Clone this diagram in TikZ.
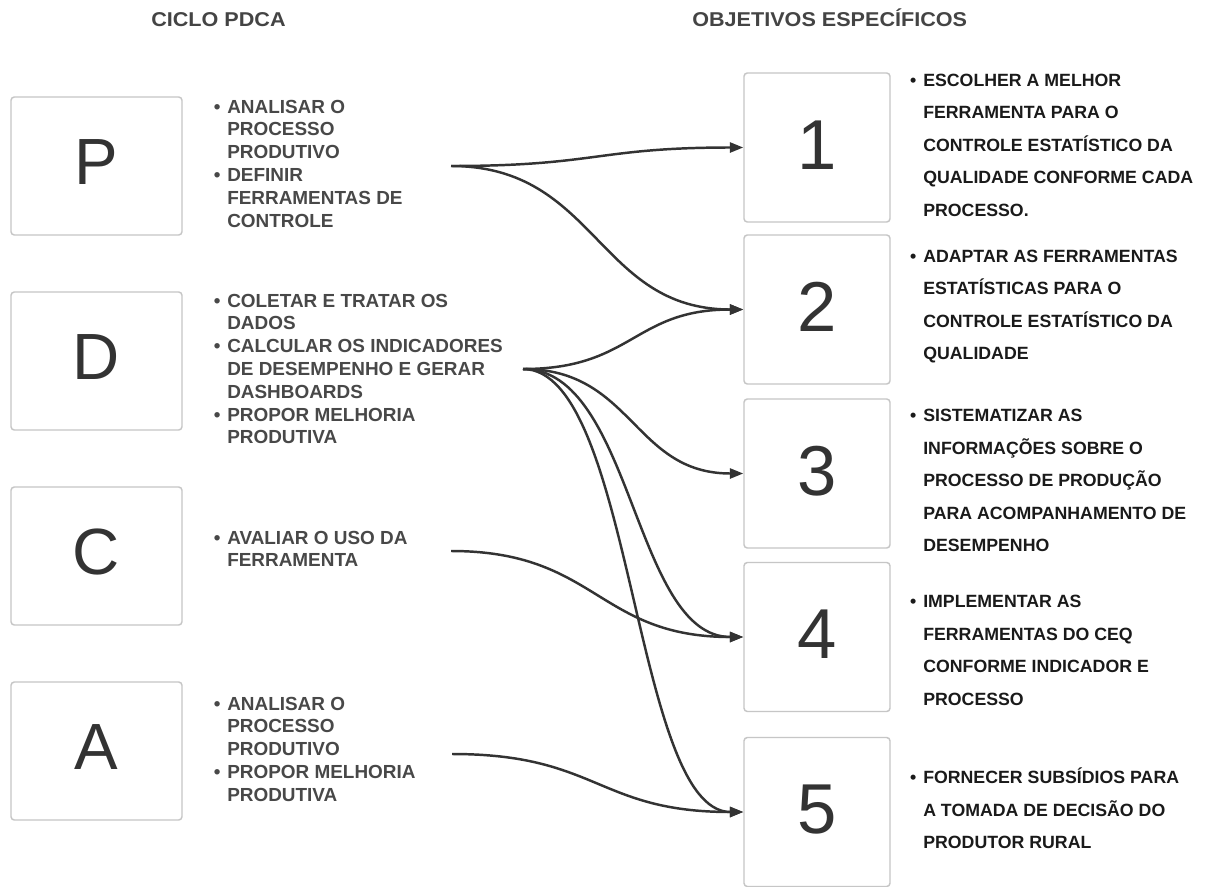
\documentclass[tikz,border=0pt]{standalone}
\usepackage{fontspec}
\setmainfont{Liberation Sans}
\usetikzlibrary{arrows.meta,calc}
\definecolor{boxline}{HTML}{C6C6C6}
\definecolor{ink}{HTML}{333333}
\definecolor{ltxt}{HTML}{484848}
\definecolor{rtxt}{HTML}{1A1A1A}
\definecolor{htxt}{HTML}{444444}
\tikzset{
  pdcabox/.style={draw=boxline,line width=1.1pt,rounded corners=2.5pt,fill=white,
    minimum width=128.25pt,minimum height=103.5pt,inner sep=0pt,
    text=ink,font=\fontsize{49pt}{49pt}\selectfont},
  objbox/.style={draw=boxline,line width=1.1pt,rounded corners=2.5pt,fill=white,
    minimum width=109.5pt,minimum height=111.75pt,inner sep=0pt,
    text=ink,font=\fontsize{53pt}{53pt}\selectfont},
  ltext/.style={anchor=base west,inner sep=0pt,text=ltxt,
    font=\fontsize{14.2pt}{17.1pt}\selectfont\bfseries},
  rtext/.style={anchor=base west,inner sep=0pt,text=rtxt,
    font=\fontsize{13.3pt}{24.4pt}\selectfont\bfseries},
  htext/.style={anchor=base west,inner sep=0pt,text=htxt,
    font=\fontsize{15pt}{15pt}\selectfont\bfseries},
  conn/.style={draw=ink,line width=1.85pt,-{Triangle[length=10pt,width=7.5pt]}},
}
\newcommand{\lb}{\llap{•\kern5pt}}
\newcommand{\rb}{\llap{•\kern5.2pt}}
\begin{document}
\begin{tikzpicture}[x=0.75pt,y=-0.75pt]
\useasboundingbox[fill=white] (0,0) rectangle (1214,886);

% headers
\node[htext] (h1) at (151,26.7) {\scalebox{1.08}[1]{CICLO PDCA}};
\node[htext] (h2) at (692,26.7) {\scalebox{1.08}[1]{OBJETIVOS ESPECÍFICOS}};

% PDCA boxes
\node[pdcabox] (P) at (96.5,166) {\raisebox{6pt}{P}};
\node[pdcabox] (D) at (96.5,361) {\raisebox{6pt}{D}};
\node[pdcabox] (C) at (96.5,556) {\raisebox{6pt}{C}};
\node[pdcabox] (A) at (96.5,751) {\raisebox{6pt}{A}};

% objective boxes
\node[objbox] (o1) at (817,147.5) {\raisebox{4pt}{1}};
\node[objbox] (o2) at (817,309.5) {\raisebox{4pt}{2}};
\node[objbox] (o3) at (817,473.5) {\raisebox{4pt}{3}};
\node[objbox] (o4) at (817,637) {\raisebox{4pt}{4}};
\node[objbox] (o5) at (817,812) {\raisebox{4pt}{5}};

% left texts
\node[ltext] (tP) at (227,113) {\begin{tabular}[t]{@{}l@{}}
\lb ANALISAR O\\ PROCESSO\\ PRODUTIVO\\ \lb DEFINIR\\ FERRAMENTAS DE\\ CONTROLE\end{tabular}};
\node[ltext] (tD) at (227,307) {\begin{tabular}[t]{@{}l@{}}
\lb COLETAR E TRATAR OS\\ DADOS\\ \lb CALCULAR OS INDICADORES\\ DE DESEMPENHO E GERAR\\ DASHBOARDS\\ \lb PROPOR MELHORIA\\ PRODUTIVA\end{tabular}};
\node[ltext] (tC) at (227,544) {\begin{tabular}[t]{@{}l@{}}
\lb AVALIAR O USO DA\\ FERRAMENTA\end{tabular}};
\node[ltext] (tA) at (227,710) {\begin{tabular}[t]{@{}l@{}}
\lb ANALISAR O\\ PROCESSO\\ PRODUTIVO\\ \lb PROPOR MELHORIA\\ PRODUTIVA\end{tabular}};

% right texts
\node[rtext] (r1) at (923,86) {\begin{tabular}[t]{@{}l@{}}
\rb ESCOLHER A MELHOR\\ FERRAMENTA PARA O\\ CONTROLE ESTATÍSTICO DA\\ QUALIDADE CONFORME CADA\\ PROCESSO.\end{tabular}};
\node[rtext] (r2) at (923,262) {\begin{tabular}[t]{@{}l@{}}
\rb ADAPTAR AS FERRAMENTAS\\ ESTATÍSTICAS PARA O\\ CONTROLE ESTATÍSTICO DA\\ QUALIDADE\end{tabular}};
\node[rtext] (r3) at (923,421.5) {\begin{tabular}[t]{@{}l@{}}
\rb SISTEMATIZAR AS\\ INFORMAÇÕES SOBRE O\\ PROCESSO DE PRODUÇÃO\\ PARA ACOMPANHAMENTO DE\\ DESEMPENHO\end{tabular}};
\node[rtext] (r4) at (923,607.5) {\begin{tabular}[t]{@{}l@{}}
\rb IMPLEMENTAR AS\\ FERRAMENTAS DO CEQ\\ CONFORME INDICADOR E\\ PROCESSO\end{tabular}};
\node[rtext] (r5) at (923,783.5) {\begin{tabular}[t]{@{}l@{}}
\rb FORNECER SUBSÍDIOS PARA\\ A TOMADA DE DECISÃO DO\\ PRODUTOR RURAL\end{tabular}};

% connector start points
\coordinate (sP) at (451,166);
\coordinate (sD) at (523,369);
\coordinate (sC) at (451,551);
\coordinate (sA) at (452,754);

% connectors
\draw[conn] (sP) .. controls ($(sP)+(146,0)$) and ($(o1.west)+(-146,0)$) .. (o1.west);
\draw[conn] (sP) .. controls ($(sP)+(146,0)$) and ($(o2.west)+(-146,0)$) .. (o2.west);
\draw[conn] (sD) .. controls ($(sD)+(110,0)$) and ($(o2.west)+(-110,0)$) .. (o2.west);
\draw[conn] (sD) .. controls ($(sD)+(110,0)$) and ($(o3.west)+(-110,0)$) .. (o3.west);
\draw[conn] (sD) .. controls ($(sD)+(110,0)$) and ($(o4.west)+(-110,0)$) .. (o4.west);
\draw[conn] (sD) .. controls ($(sD)+(110,0)$) and ($(o5.west)+(-110,0)$) .. (o5.west);
\draw[conn] (sC) .. controls ($(sC)+(146,0)$) and ($(o4.west)+(-146,0)$) .. (o4.west);
\draw[conn] (sA) .. controls ($(sA)+(146,0)$) and ($(o5.west)+(-146,0)$) .. (o5.west);
\end{tikzpicture}
\end{document}
